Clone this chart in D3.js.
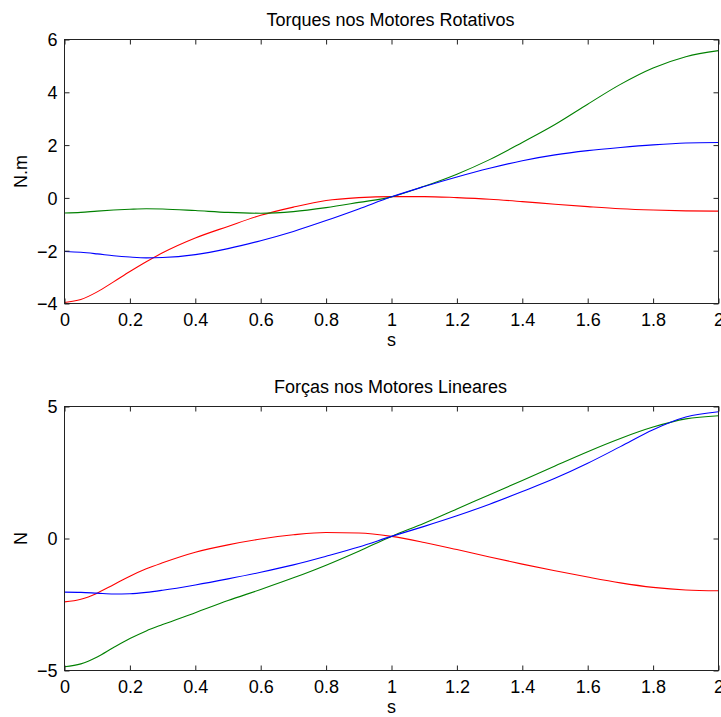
<!DOCTYPE html>
<html>
<head>
<meta charset="utf-8">
<script src="https://cdn.jsdelivr.net/npm/d3@7"></script>
<style>
  html, body { margin: 0; padding: 0; background: #fff; }
  svg { display: block; }
  text { font-family: "Liberation Sans", Arial, sans-serif; fill: #000; }
</style>
</head>
<body>
<div id="chart"></div>
<script>
// Time samples (s)
const time = [0, 0.05, 0.1, 0.15, 0.2, 0.25, 0.3, 0.4, 0.5, 0.6, 0.7, 0.8, 0.9, 1.0,
              1.1, 1.2, 1.3, 1.4, 1.5, 1.6, 1.7, 1.8, 1.9, 2.0];

// Torques on the rotary motors (N.m)
const torqueRed   = [-3.96, -3.85, -3.56, -3.18, -2.79, -2.42, -2.08, -1.52, -1.08, -0.66, -0.35, -0.10, 0.01, 0.05,
                     0.05, 0.01, -0.05, -0.14, -0.24, -0.33, -0.41, -0.46, -0.49, -0.50];
const torqueBlue  = [-2.03, -2.06, -2.12, -2.19, -2.24, -2.27, -2.26, -2.15, -1.92, -1.62, -1.27, -0.86, -0.42, 0.04,
                     0.43, 0.79, 1.12, 1.41, 1.63, 1.79, 1.91, 2.01, 2.08, 2.10];
const torqueGreen = [-0.57, -0.55, -0.50, -0.46, -0.43, -0.41, -0.42, -0.48, -0.55, -0.58, -0.52, -0.37, -0.17, 0.04,
                     0.44, 0.90, 1.45, 2.10, 2.78, 3.55, 4.30, 4.92, 5.35, 5.58];

// Forces on the linear motors (N)
const forceRed   = [-2.40, -2.30, -2.07, -1.75, -1.43, -1.15, -0.92, -0.52, -0.24, -0.02, 0.14, 0.23, 0.21, 0.08,
                    -0.15, -0.42, -0.70, -0.97, -1.22, -1.46, -1.68, -1.85, -1.95, -1.98];
const forceBlue  = [-2.03, -2.04, -2.07, -2.10, -2.09, -2.04, -1.96, -1.76, -1.53, -1.28, -1.00, -0.67, -0.32, 0.08,
                    0.46, 0.86, 1.30, 1.78, 2.28, 2.85, 3.48, 4.12, 4.60, 4.80];
const forceGreen = [-4.86, -4.75, -4.49, -4.13, -3.79, -3.50, -3.26, -2.81, -2.35, -1.93, -1.49, -1.01, -0.48, 0.08,
                    0.58, 1.12, 1.66, 2.20, 2.75, 3.29, 3.79, 4.22, 4.53, 4.65];

const xTicks = [0, 0.2, 0.4, 0.6, 0.8, 1, 1.2, 1.4, 1.6, 1.8, 2];
const torqueTicks = [-4, -2, 0, 2, 4, 6];
const forceTicks = [-5, 0, 5];

const W = 721, H = 717;
const svg = d3.select("#chart").append("svg").attr("width", W).attr("height", H);

const FONT = 18;
const TICK = 5;

function panel(opts) {
  const { left, right, top, bottom, yDomain, yTicks, title, yLabel, series } = opts;
  const x = d3.scaleLinear().domain([0, 2]).range([left, right]);
  const y = d3.scaleLinear().domain(yDomain).range([bottom, top]);
  const g = svg.append("g");

  // data lines
  const line = d3.line().x((d, i) => x(time[i])).y(d => y(d)).curve(d3.curveMonotoneX);
  const clipId = "clip" + Math.round(top);
  svg.append("clipPath").attr("id", clipId).append("rect")
    .attr("x", left).attr("y", top).attr("width", right - left).attr("height", bottom - top);
  series.forEach(s => {
    g.append("path").datum(s.values)
      .attr("d", line)
      .attr("fill", "none")
      .attr("stroke", s.color)
      .attr("stroke-width", 1.1)
      .attr("clip-path", `url(#${clipId})`);
  });

  // axes box with inward ticks on all four sides
  const axB = d3.axisBottom(x).tickValues(xTicks).tickSizeInner(-TICK).tickSizeOuter(0).tickFormat(d3.format("~g"));
  const axT = d3.axisTop(x).tickValues(xTicks).tickSizeInner(-TICK).tickSizeOuter(0).tickFormat("");
  const axL = d3.axisLeft(y).tickValues(yTicks).tickSizeInner(-TICK).tickSizeOuter(0).tickFormat(d3.format("~g"));
  const axR = d3.axisRight(y).tickValues(yTicks).tickSizeInner(-TICK).tickSizeOuter(0).tickFormat("");

  const gb = g.append("g").attr("transform", `translate(0,${bottom})`).call(axB);
  const gt = g.append("g").attr("transform", `translate(0,${top})`).call(axT);
  const gl = g.append("g").attr("transform", `translate(${left},0)`).call(axL);
  const gr = g.append("g").attr("transform", `translate(${right},0)`).call(axR);

  [gb, gt, gl, gr].forEach(a => {
    a.selectAll(".domain").remove();
    a.selectAll(".tick line").attr("stroke", "#222").attr("stroke-width", 1);
    a.selectAll("text").attr("font-size", FONT).attr("fill", "#000")
      .style("font-family", '"Liberation Sans", Arial, sans-serif');
  });
  gb.selectAll(".tick text").attr("y", 0).attr("dy", 0).attr("transform", "translate(0,22)");
  gl.selectAll(".tick text").attr("x", -7).attr("dy", "0.36em");

  g.append("rect")
    .attr("x", left).attr("y", top)
    .attr("width", right - left).attr("height", bottom - top)
    .attr("fill", "none").attr("stroke", "#222").attr("stroke-width", 1);

  // title and labels
  g.append("text").attr("x", (left + right) / 2 - 1).attr("y", top - 13.5)
    .attr("text-anchor", "middle").attr("font-size", FONT).text(title);
  g.append("text").attr("x", (left + right) / 2).attr("y", bottom + 42)
    .attr("text-anchor", "middle").attr("font-size", FONT).text("s");
  g.append("text")
    .attr("transform", `translate(27,${(top + bottom) / 2}) rotate(-90)`)
    .attr("text-anchor", "middle").attr("font-size", FONT).text(yLabel);
}

panel({
  left: 64.5, right: 718.5, top: 39.5, bottom: 303.5,
  yDomain: [-4, 6], yTicks: torqueTicks,
  title: "Torques nos Motores Rotativos", yLabel: "N.m",
  series: [
    { values: torqueRed, color: "#ff0000" },
    { values: torqueGreen, color: "#008000" },
    { values: torqueBlue, color: "#0000ff" }
  ]
});

panel({
  left: 64.5, right: 718.5, top: 406.5, bottom: 670.5,
  yDomain: [-5, 5], yTicks: forceTicks,
  title: "Forças nos Motores Lineares", yLabel: "N",
  series: [
    { values: forceRed, color: "#ff0000" },
    { values: forceGreen, color: "#008000" },
    { values: forceBlue, color: "#0000ff" }
  ]
});
</script>
</body>
</html>
